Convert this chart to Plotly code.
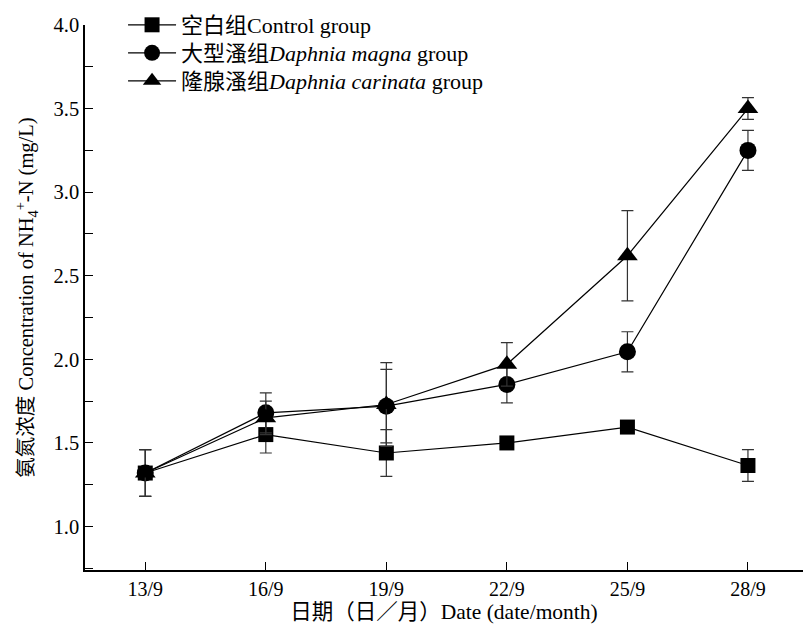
import plotly.graph_objects as go

dates = [13, 16, 19, 22, 25, 28]
date_labels = ["13/9", "16/9", "19/9", "22/9", "25/9", "28/9"]

control = [1.32, 1.55, 1.44, 1.50, 1.595, 1.365]
control_err = [0.14, 0.11, 0.14, 0.03, 0.03, 0.095]

magna = [1.32, 1.68, 1.72, 1.85, 2.045, 3.25]
magna_err = [0.14, 0.12, 0.22, 0.11, 0.12, 0.12]

carinata = [1.32, 1.65, 1.73, 1.97, 2.62, 3.50]
carinata_err = [0.14, 0.10, 0.25, 0.13, 0.27, 0.065]

names = ["空白组Control group",
         "大型溞组<i>Daphnia magna</i> group",
         "隆腺溞组<i>Daphnia carinata</i> group"]

FONT = "Liberation Serif, Times New Roman, Noto Sans CJK SC, serif"

fig = go.Figure()
series = [(control, control_err, "square", 15),
          (magna, magna_err, "circle", 17),
          (carinata, carinata_err, "triangle-up", 18)]
legend_ids = ["legend", "legend2", "legend3"]
for (vals, err, sym, sz), nm, lg in zip(series, names, legend_ids):
    fig.add_trace(go.Scatter(
        x=dates, y=vals, name=nm, mode="lines+markers", legend=lg,
        line=dict(color="black", width=1.2),
        marker=dict(symbol=sym, size=sz, color="black"),
        error_y=dict(type="data", array=err, visible=True, color="#333333",
                     thickness=1.2, width=6),
    ))

leg_common = dict(x=0.053, xanchor="left", yanchor="middle",
                  bgcolor="rgba(0,0,0,0)", font=dict(family=FONT, size=22),
                  itemwidth=48)

fig.update_layout(
    width=804, height=628,
    paper_bgcolor="white", plot_bgcolor="white",
    margin=dict(l=85, r=1, t=25, b=58),
    font=dict(family=FONT, size=20, color="black"),
    showlegend=True,
    legend=dict(y=1.0, **leg_common),
    legend2=dict(y=0.9486, **leg_common),
    legend3=dict(y=0.8972, **leg_common),
    xaxis=dict(range=[11.5, 29.37], tickvals=dates, ticktext=date_labels,
               tickfont=dict(family=FONT, size=20),
               showline=True, linecolor="black", linewidth=1.5,
               ticks="inside", ticklen=8, tickwidth=1.2, tickcolor="black",
               showgrid=False, zeroline=False, automargin=False,
               title=dict(text="日期（日／月）Date (date/month)",
                          font=dict(family=FONT, size=21.5), standoff=0)),
    yaxis=dict(range=[0.74, 4.0], tickvals=[1.0, 1.5, 2.0, 2.5, 3.0, 3.5, 4.0],
               ticktext=["1.0", "1.5", "2.0", "2.5", "3.0", "3.5", "4.0"],
               tickfont=dict(family=FONT, size=20.5),
               showline=True, linecolor="black", linewidth=1.5,
               ticks="inside", ticklen=8, tickwidth=1.2, tickcolor="black",
               minor=dict(dtick=0.25, tick0=0, ticks="inside", ticklen=8,
                          tickwidth=1.2, tickcolor="black"),
               showgrid=False, zeroline=False, automargin=False,
               title=dict(text="氨氮浓度 Concentration of NH<sub>4</sub><sup>+</sup>-N (mg/L)",
                          font=dict(family=FONT, size=20.5), standoff=14)),
)

fig.write_html("out.html", config={"displayModeBar": False},
               post_script="document.body.style.margin='0';")
